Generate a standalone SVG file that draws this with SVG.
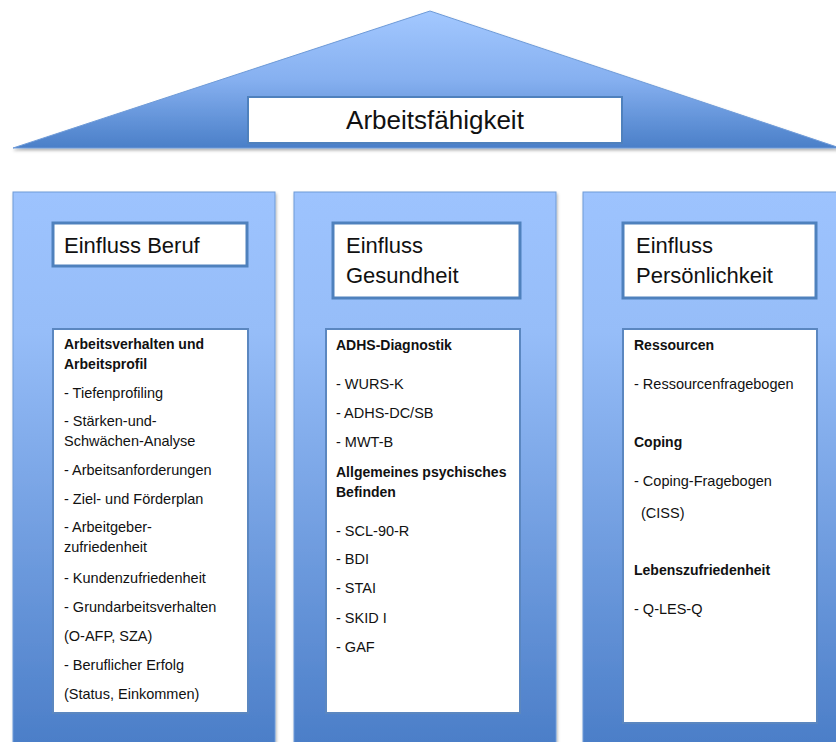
<svg xmlns="http://www.w3.org/2000/svg" width="836" height="742" viewBox="0 0 836 742">
<defs>
  <linearGradient id="gRoof" x1="0" y1="0" x2="0" y2="1">
    <stop offset="0" stop-color="#A3C8FF"/>
    <stop offset="0.5" stop-color="#86B0F0"/>
    <stop offset="1" stop-color="#4A7FC8"/>
  </linearGradient>
  <linearGradient id="gPillar" x1="0" y1="0" x2="0" y2="1">
    <stop offset="0" stop-color="#9DC3FE"/>
    <stop offset="0.25" stop-color="#96BDF8"/>
    <stop offset="1" stop-color="#4A7DC7"/>
  </linearGradient>
  <filter id="sh" x="-5%" y="-5%" width="110%" height="115%">
    <feDropShadow dx="1" dy="2" stdDeviation="1.5" flood-color="#000" flood-opacity="0.3"/>
  </filter>
</defs>
<style>
  .pillar { fill: url(#gPillar); stroke: #6F9BD8; stroke-width: 1; }
  .hbox { fill: #fff; stroke: #4F81BD; stroke-width: 3; }
  .cbox { fill: #fff; stroke: #5B87C0; stroke-width: 2; }
  .h { font-family: "Liberation Sans", Arial, sans-serif; font-size: 22px; fill: #111; }
  .t { font-family: "Liberation Sans", Arial, sans-serif; font-size: 14.5px; fill: #111; }
  .b { font-weight: bold; font-size: 14px; }
</style>
<rect width="836" height="742" fill="#fff"/>

<g id="roof">
  <polygon points="430,11 13,148 840,148" fill="url(#gRoof)" stroke="#6F9BD8" stroke-width="1" filter="url(#sh)"/>
  <rect x="248" y="97" width="374" height="46" fill="#fff" stroke="#4F81BD" stroke-width="2"/>
  <text x="435" y="129" text-anchor="middle" font-family="'Liberation Sans', Arial, sans-serif" font-size="26" fill="#111">Arbeitsfähigkeit</text>
</g>

<g id="pillar-beruf">
  <rect class="pillar" x="13" y="192" width="262" height="560" filter="url(#sh)"/>
  <rect class="hbox" x="53" y="223" width="194" height="43"/>
  <text class="h" x="64" y="253">Einfluss Beruf</text>
  <rect class="cbox" x="53" y="329" width="195" height="384"/>
  <text class="t b" x="64" y="349">Arbeitsverhalten und</text>
  <text class="t b" x="64" y="369">Arbeitsprofil</text>
  <text class="t" x="64" y="398">- Tiefenprofiling</text>
  <text class="t" x="64" y="426">- Stärken-und-</text>
  <text class="t" x="64" y="446">Schwächen-Analyse</text>
  <text class="t" x="64" y="475">- Arbeitsanforderungen</text>
  <text class="t" x="64" y="504">- Ziel- und Förderplan</text>
  <text class="t" x="64" y="532">- Arbeitgeber-</text>
  <text class="t" x="64" y="552">zufriedenheit</text>
  <text class="t" x="64" y="583">- Kundenzufriedenheit</text>
  <text class="t" x="64" y="612">- Grundarbeitsverhalten</text>
  <text class="t" x="64" y="641">(O-AFP, SZA)</text>
  <text class="t" x="64" y="670">- Beruflicher Erfolg</text>
  <text class="t" x="64" y="699">(Status, Einkommen)</text>
</g>

<g id="pillar-gesundheit">
  <rect class="pillar" x="294" y="192" width="262" height="560" filter="url(#sh)"/>
  <rect class="hbox" x="333" y="223" width="187" height="75"/>
  <text class="h" x="346" y="253">Einfluss</text>
  <text class="h" x="346" y="283">Gesundheit</text>
  <rect class="cbox" x="326" y="329" width="194" height="384"/>
  <text class="t b" x="336" y="350">ADHS-Diagnostik</text>
  <text class="t" x="336" y="389">- WURS-K</text>
  <text class="t" x="336" y="418">- ADHS-DC/SB</text>
  <text class="t" x="336" y="447">- MWT-B</text>
  <text class="t b" x="336" y="477">Allgemeines psychisches</text>
  <text class="t b" x="336" y="497">Befinden</text>
  <text class="t" x="336" y="536">- SCL-90-R</text>
  <text class="t" x="336" y="564">- BDI</text>
  <text class="t" x="336" y="593">- STAI</text>
  <text class="t" x="336" y="623">- SKID I</text>
  <text class="t" x="336" y="652">- GAF</text>
</g>

<g id="pillar-persoenlichkeit">
  <rect class="pillar" x="583" y="192" width="262" height="560" filter="url(#sh)"/>
  <rect class="hbox" x="623" y="223" width="193" height="75"/>
  <text class="h" x="636" y="253">Einfluss</text>
  <text class="h" x="636" y="283">Persönlichkeit</text>
  <rect class="cbox" x="623" y="329" width="194" height="394"/>
  <text class="t b" x="634" y="350">Ressourcen</text>
  <text class="t" x="634" y="389">- Ressourcenfragebogen</text>
  <text class="t b" x="634" y="447">Coping</text>
  <text class="t" x="634" y="486">- Coping-Fragebogen</text>
  <text class="t" x="641" y="518">(CISS)</text>
  <text class="t b" x="634" y="575">Lebenszufriedenheit</text>
  <text class="t" x="634" y="614">- Q-LES-Q</text>
</g>

<g id="connectors"></g>
</svg>
